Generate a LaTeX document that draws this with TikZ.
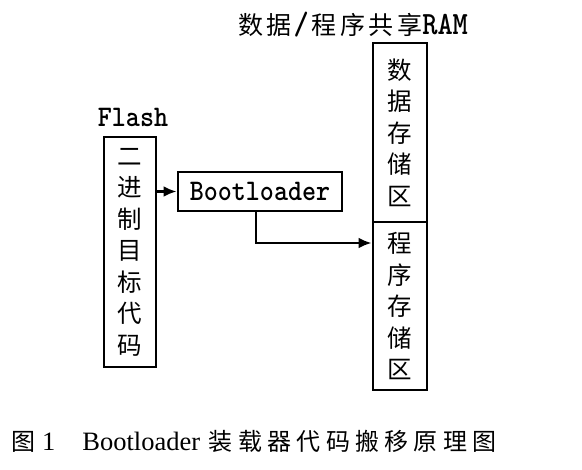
\documentclass[tikz,border=0pt]{standalone}
\usepackage{fontspec}
\setmainfont{Liberation Serif}
\newfontfamily\cjk{Noto Sans CJK SC}
\usetikzlibrary{arrows.meta}
\newcommand\tallmono[1]{\scalebox{1}[1.12]{\ttfamily\bfseries #1}}
\newcommand\capc[1]{\makebox[29.3pt]{#1}}
\tikzset{
  box/.style={draw, line width=2.8pt, inner sep=0pt, align=center,
    font=\cjk\fontsize{24.5}{31.5}\selectfont},
  arr/.style={line width=2.6pt, -{Latex[length=13pt,width=11pt]}},
  lbl/.style={inner sep=0pt}
}
\begin{document}
\begin{tikzpicture}[x=1pt,y=-1pt]
\useasboundingbox[fill=white] (0,0) rectangle (582,470);

% Flash
\node[lbl, font=\fontsize{26.7}{28}\selectfont] (flashlbl) at (133,117) {\tallmono{Flash}};
\node[box, minimum width=52pt, minimum height=230pt] (flash) at (130,252)
  {二\\进\\制\\目\\标\\代\\码};

% Bootloader
\node[box, minimum width=164pt, minimum height=39pt, font=\fontsize{26.7}{28}\selectfont] (boot) at (260,191.5) {\tallmono{Bootloader}};

% RAM
\node[lbl] (ramlbl) at (353,25) {{\cjk\fontsize{25}{26}\selectfont 数\hspace{3.5pt}据\hspace{2pt}}\tallmono{\fontsize{29}{30}\selectfont /}{\cjk\fontsize{25}{26}\selectfont\hspace{3pt}程\hspace{3.5pt}序\hspace{3.5pt}共\hspace{3.5pt}享}\tallmono{\fontsize{29}{30}\selectfont RAM}};
\node[box, minimum width=54pt, minimum height=179pt] (ramdata) at (400,132.5)
  {数\\据\\存\\储\\区};
\node[box, minimum width=54pt, minimum height=168pt] (ramprog) at (400,306)
  {程\\序\\存\\储\\区};

% connectors
\draw[arr] (flash.east |- boot.west) -- (boot.west);
\coordinate (bend) at (256,243);
\draw[arr] (boot.south -| bend) -- (bend) -- (bend -| ramprog.west);

% caption
\node[lbl, anchor=west, font=\fontsize{26.5}{28}\selectfont] (caption) at (11,441)
  {{\cjk\fontsize{24}{24}\selectfont 图}\hspace{7pt}1\hspace{27pt}Bootloader\hspace{6pt}{\cjk\fontsize{24}{24}\selectfont\capc{装}\capc{载}\capc{器}\capc{代}\capc{码}\capc{搬}\capc{移}\capc{原}\capc{理}\capc{图}}};
\end{tikzpicture}
\end{document}
